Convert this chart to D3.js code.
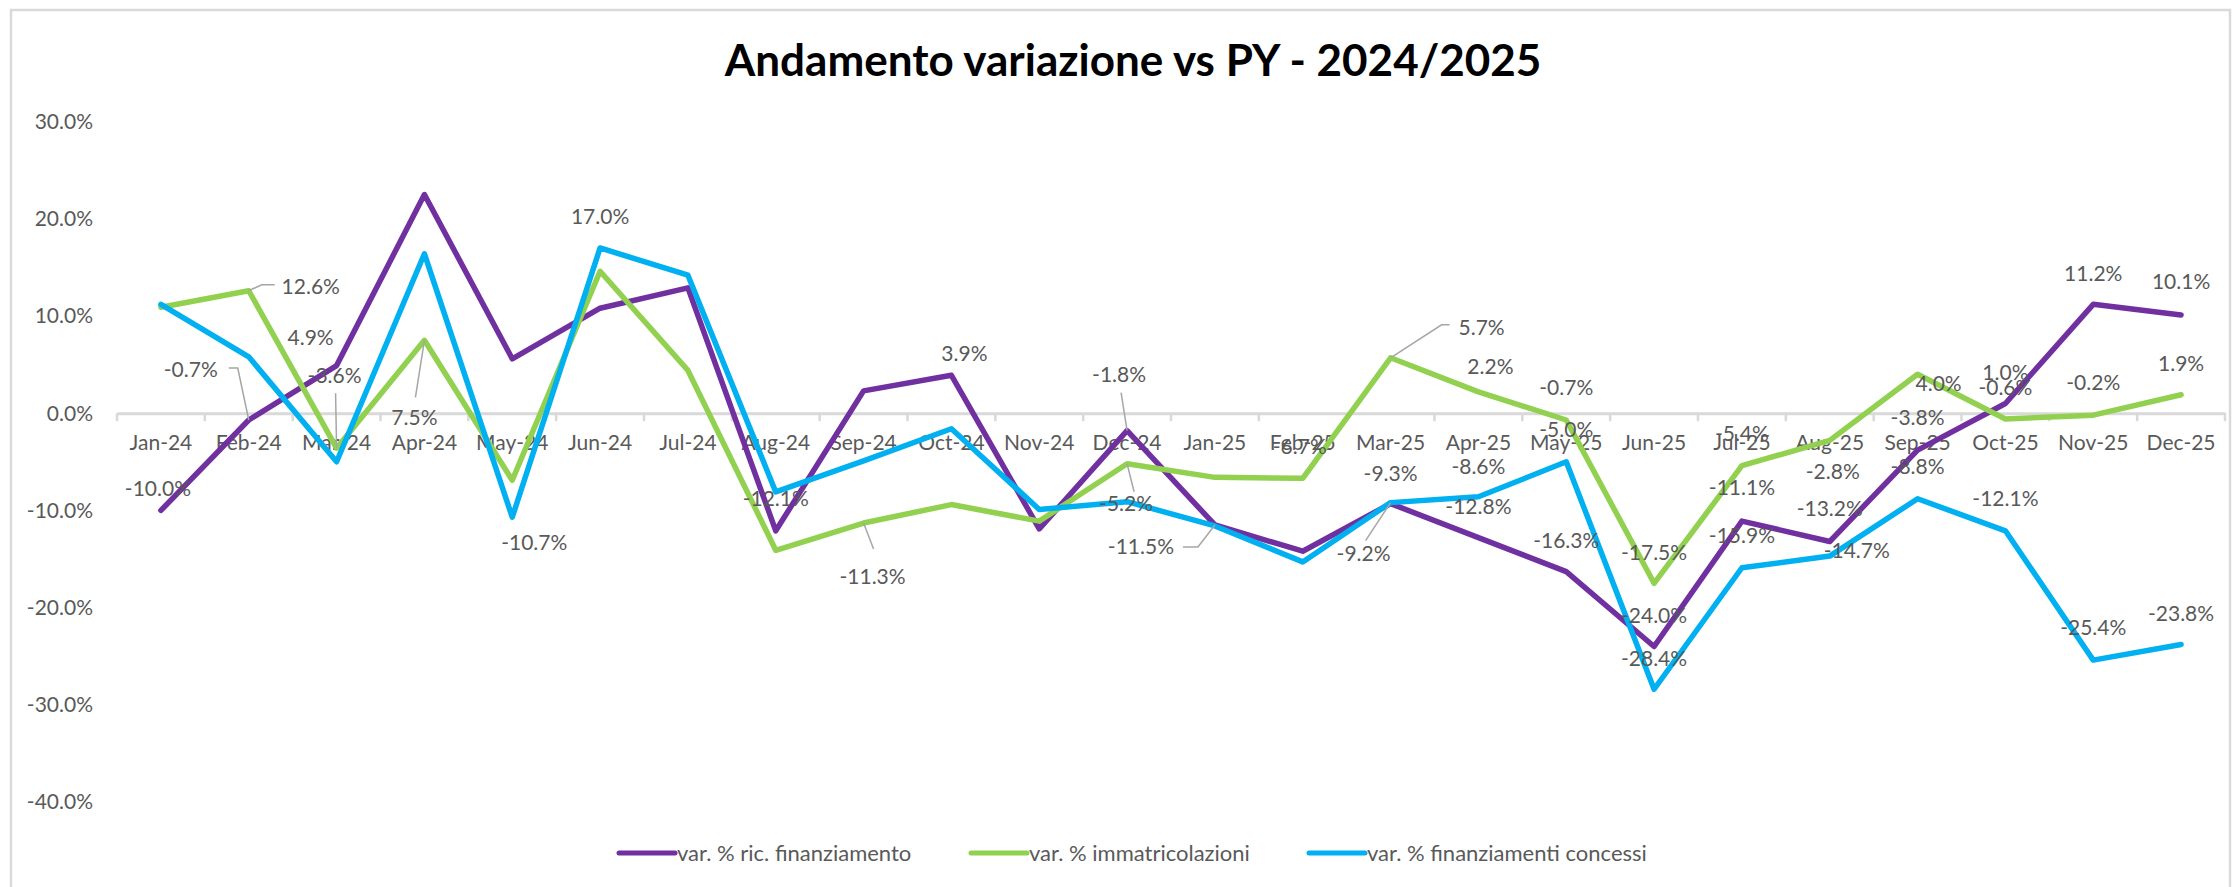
<!DOCTYPE html>
<html>
<head>
<meta charset="utf-8">
<script src="https://cdn.jsdelivr.net/npm/d3@7"></script>
<style>
    body { margin: 0; background: #fff; }
    text { font-family: Lato, "Open Sans", sans-serif; }
</style>
</head>
<body>
<svg id="chart" width="2234" height="887"></svg>
<script>
const months = ["Jan-24", "Feb-24", "Mar-24", "Apr-24", "May-24", "Jun-24", "Jul-24", "Aug-24", "Sep-24", "Oct-24", "Nov-24", "Dec-24",
                "Jan-25", "Feb-25", "Mar-25", "Apr-25", "May-25", "Jun-25", "Jul-25", "Aug-25", "Sep-25", "Oct-25", "Nov-25", "Dec-25"];

const ricFinanziamento = [-10.0, -0.7, 4.9, 22.5, 5.6, 10.8, 12.9, -12.1, 2.3, 3.9, -11.9, -1.8,
                          -11.5, -14.2, -9.3, -12.8, -16.3, -24.0, -11.1, -13.2, -3.8, 1.0, 11.2, 10.1];
const immatricolazioni = [10.9, 12.6, -3.6, 7.5, -6.9, 14.6, 4.4, -14.1, -11.3, -9.4, -11.1, -5.2,
                          -6.6, -6.7, 5.7, 2.2, -0.7, -17.5, -5.4, -2.8, 4.0, -0.6, -0.2, 1.9];
const finanziamentiConcessi = [11.2, 5.8, -5.0, 16.4, -10.7, 17.0, 14.2, -8.1, -4.9, -1.6, -9.9, -9.1,
                               -11.6, -15.3, -9.2, -8.6, -5.0, -28.4, -15.9, -14.7, -8.8, -12.1, -25.4, -23.8];

const yTicks = [30, 20, 10, 0, -10, -20, -30, -40];

const series = [
    { name: "var. % ric. finanziamento", values: ricFinanziamento, color: "#7030A0" },
    { name: "var. % immatricolazioni", values: immatricolazioni, color: "#92D050" },
    { name: "var. % finanziamenti concessi", values: finanziamentiConcessi, color: "#00B0F0" }
];

// which points carry a data label, and where the label sits relative to the point
const labelLayout = [
    { s: 0, i: 0, dx: -3, dy: -22 },
    { s: 0, i: 1, dx: -58, dy: -50, leader: [[-11, -52], [-20, -52]] },
    { s: 0, i: 2, dx: -26, dy: -28 },
    { s: 0, i: 7, dx: 0, dy: -32 },
    { s: 0, i: 9, dx: 13, dy: -22 },
    { s: 0, i: 11, dx: -8, dy: -56, leader: [[-6, -38]] },
    { s: 0, i: 12, dx: -74, dy: 22, leader: [[-17, 22], [-32, 22]] },
    { s: 0, i: 14, dx: 0, dy: -30 },
    { s: 0, i: 15, dx: 0, dy: -31 },
    { s: 0, i: 16, dx: 0, dy: -31 },
    { s: 0, i: 17, dx: 0, dy: -31 },
    { s: 0, i: 18, dx: 0, dy: -33 },
    { s: 0, i: 19, dx: 0, dy: -33 },
    { s: 0, i: 20, dx: 0, dy: -32 },
    { s: 0, i: 21, dx: 0, dy: -31 },
    { s: 0, i: 22, dx: 0, dy: -31 },
    { s: 0, i: 23, dx: 0, dy: -33 },

    { s: 1, i: 1, dx: 62, dy: -4, leader: [[13, -6], [26, -6]] },
    { s: 1, i: 2, dx: -2, dy: -73, leader: [[-1, -55]] },
    { s: 1, i: 3, dx: -10, dy: 77, leader: [[-9, 57]] },
    { s: 1, i: 8, dx: 9, dy: 54, leader: [[10, 26]] },
    { s: 1, i: 11, dx: -1, dy: 40, leader: [[7, 28]] },
    { s: 1, i: 13, dx: -3, dy: -32 },
    { s: 1, i: 14, dx: 91, dy: -30, leader: [[51, -33], [59, -33]] },
    { s: 1, i: 15, dx: 12, dy: -25 },
    { s: 1, i: 16, dx: 0, dy: -32 },
    { s: 1, i: 17, dx: 0, dy: -31 },
    { s: 1, i: 18, dx: 0, dy: -32 },
    { s: 1, i: 19, dx: 3, dy: 31 },
    { s: 1, i: 20, dx: 21, dy: 9 },
    { s: 1, i: 21, dx: 0, dy: -31 },
    { s: 1, i: 22, dx: 0, dy: -32 },
    { s: 1, i: 23, dx: 0, dy: -31 },

    { s: 2, i: 4, dx: 22, dy: 25 },
    { s: 2, i: 5, dx: 0, dy: -31 },
    { s: 2, i: 14, dx: -27, dy: 51, leader: [[-25, 38]] },
    { s: 2, i: 15, dx: 0, dy: -30 },
    { s: 2, i: 16, dx: 0, dy: -32 },
    { s: 2, i: 17, dx: 0, dy: -31 },
    { s: 2, i: 18, dx: 0, dy: -32 },
    { s: 2, i: 19, dx: 27, dy: -5 },
    { s: 2, i: 20, dx: 0, dy: -32 },
    { s: 2, i: 21, dx: 0, dy: -32 },
    { s: 2, i: 22, dx: 0, dy: -32 },
    { s: 2, i: 23, dx: 0, dy: -31 }
];

const grey = "#595959";
const locale = d3.formatLocale({ decimal: ".", thousands: ",", grouping: [3], currency: ["", ""], minus: "-" });
const fmt = d => locale.format(".1f")(d) + "%";

const svg = d3.select("#chart");

// chart area border
svg.append("rect")
    .attr("x", 11).attr("y", 10)
    .attr("width", 2219).attr("height", 890)
    .attr("fill", "#fff")
    .attr("stroke", "#D9D9D9")
    .attr("stroke-width", 2.5);

const x = d3.scaleBand().domain(months).range([117, 2225]);
const y = d3.scaleLinear().domain([-40, 30]).range([802, 121.6]);
const cx = m => x(m) + x.bandwidth() / 2;

// title
svg.append("text")
    .attr("x", 1133).attr("y", 76)
    .attr("text-anchor", "middle")
    .attr("font-size", 44)
    .attr("font-weight", 700)
    .attr("fill", "#000")
    .text("Andamento variazione vs PY - 2024/2025");

// y axis labels (no axis line)
svg.append("g")
    .selectAll("text")
    .data(yTicks)
    .join("text")
        .attr("x", 93)
        .attr("y", d => y(d))
        .attr("dy", "0.35em")
        .attr("text-anchor", "end")
        .attr("font-size", 21)
        .attr("fill", grey)
        .text(d => fmt(d));

// category axis on the zero line
const xAxis = svg.append("g")
    .attr("transform", `translate(0,${y(0)})`)
    .call(d3.axisBottom(x).tickSize(0).tickPadding(22));
xAxis.select(".domain").attr("stroke", "#D9D9D9").attr("stroke-width", 3);
xAxis.selectAll(".tick text")
    .attr("font-size", 21)
    .attr("font-family", "Lato, sans-serif")
    .attr("fill", grey);

xAxis.selectAll(".bound")
    .data(d3.range(months.length + 1))
    .join("line")
        .attr("class", "bound")
        .attr("x1", i => 117 + i * x.bandwidth())
        .attr("x2", i => 117 + i * x.bandwidth())
        .attr("y1", 0).attr("y2", 8)
        .attr("stroke", "#D9D9D9")
        .attr("stroke-width", 2.5);

// series lines
const line = d3.line()
    .x((d, i) => cx(months[i]))
    .y(d => y(d));

svg.append("g")
    .selectAll("path")
    .data(series)
    .join("path")
        .attr("d", d => line(d.values))
        .attr("fill", "none")
        .attr("stroke", d => d.color)
        .attr("stroke-width", 5.5)
        .attr("stroke-linejoin", "round")
        .attr("stroke-linecap", "round");

// data labels and leader lines
const labels = labelLayout.map(l => {
    const v = series[l.s].values[l.i];
    return { ...l, v, px: cx(months[l.i]), py: y(v) };
});

svg.append("g")
    .selectAll("polyline")
    .data(labels.filter(d => d.leader))
    .join("polyline")
        .attr("points", d => [[0, 0], ...d.leader].map(p => [d.px + p[0], d.py + p[1]].join(",")).join(" "))
        .attr("fill", "none")
        .attr("stroke", "#A6A6A6")
        .attr("stroke-width", 1.5);

svg.append("g")
    .selectAll("text")
    .data(labels)
    .join("text")
        .attr("x", d => d.px + d.dx)
        .attr("y", d => d.py + d.dy)
        .attr("dy", "0.35em")
        .attr("text-anchor", "middle")
        .attr("font-size", 21)
        .attr("fill", grey)
        .text(d => fmt(d.v));

// legend
const legendX = [619, 971, 1309];
const legend = svg.append("g")
    .selectAll("g")
    .data(series)
    .join("g")
        .attr("transform", (d, i) => `translate(${legendX[i]},853)`);

legend.append("line")
    .attr("x1", 0).attr("x2", 56)
    .attr("stroke", d => d.color)
    .attr("stroke-width", 5)
    .attr("stroke-linecap", "round");

legend.append("text")
    .attr("x", 58)
    .attr("dy", "0.35em")
    .attr("font-size", 22)
    .attr("fill", grey)
    .text(d => d.name);
</script>
</body>
</html>
